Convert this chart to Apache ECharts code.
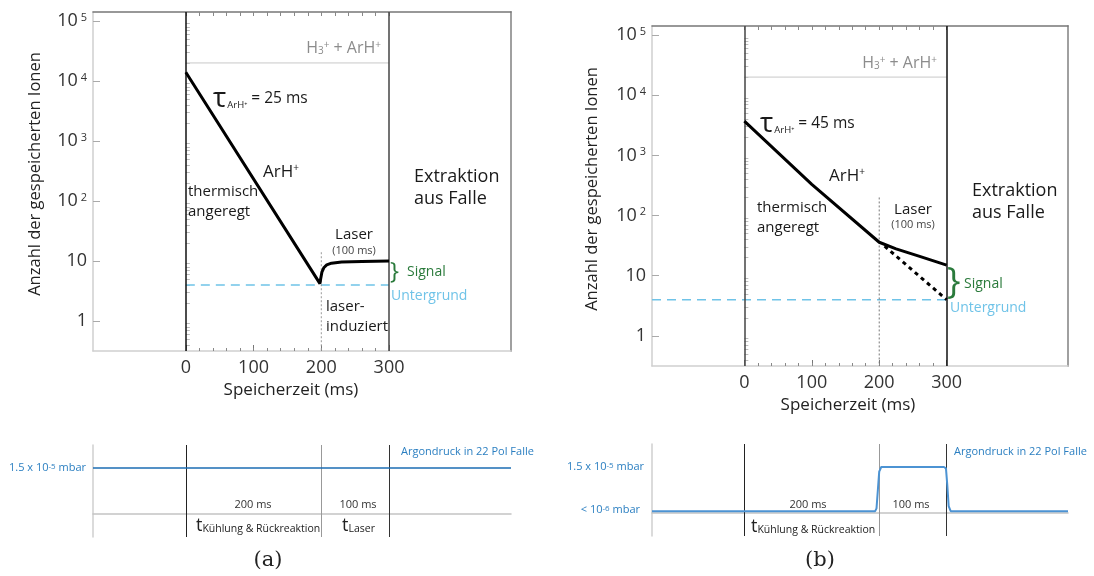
<!DOCTYPE html>
<html>
<head>
<meta charset="utf-8">
<script src="https://cdn.jsdelivr.net/npm/echarts@6/dist/echarts.min.js"></script>
<style>html,body{margin:0;padding:0;background:#fff}#chart{width:1094px;height:576px}</style>
</head>
<body>
<div id="chart"></div>
<script>
// axes: storage time in ms, ion count on log scale
var xMin = -137, xMax = 480;
var yMin = Math.pow(10, -0.5), yMax = Math.pow(10, 5.15);
var decadeTicks = [1, 10, 100, 1000, 10000, 100000];
var timeLabels = [0, 100, 200, 300];
var timeMinorTicks = [0, 20, 40, 60, 80, 100, 120, 140, 160, 180, 200, 220, 240, 260, 280, 300];
var phaseEdges = [0, 200, 300];

var h3Level = 20000;   // H3+ + ArH+
var bgLevel = 4;       // Untergrund

// (a) thermal decay, then laser induced rise
var curveA_t = [0, 198, 199, 201, 204, 208, 215, 230, 260, 300];
var curveA_n = [14000, 4.2, 5.0, 6.6, 7.8, 8.6, 9.2, 9.6, 9.85, 10];
var laserTopA = 14;

// (b) decay, slower loss with laser, dotted without laser
var curveB_t = [0, 100, 200, 225, 260, 300];
var curveB_n = [3700, 330, 36, 28, 21, 15];
var noLaserB_t = [208, 300];
var noLaserB_n = [31, 4];
var laserTopB = 200;

// argon pressure (relative: 1 = 1.5e-5 mbar)
var pressA_t = [-137, 480];
var pressA_v = [1, 1];
var pressB_t = [-137, 194, 196, 198, 200, 203, 296, 299, 301, 303, 306, 480];
var pressB_v = [0.04, 0.04, 0.1, 0.5, 0.9, 1, 1, 0.97, 0.6, 0.15, 0.04, 0.04];

var FONT = '"Open Sans", "Noto Sans", sans-serif';
var INK = '#1a1a1a';
var GREEN = '#2a7a3b';
var LIGHTBLUE = '#6fc3e8';
var BLUE = '#2b7fc1';

function zip(t, v) {
    return t.map(function (x, i) { return [x, v[i]]; });
}

var minorTicks = [];
[0.1].concat(decadeTicks).forEach(function (d) {
    for (var k = 2; k <= 9; k++) {
        var m = d * k;
        if (m > yMin && m < yMax) minorTicks.push(m);
    }
});

function powLabel(v) {
    var e = Math.round(Math.log(v) / Math.LN10);
    if (e === 0) return '1';
    if (e === 1) return '10';
    return '{b|10}{s|' + e + '}';
}

function mainX(gi) {
    return [
        {type: 'value', gridIndex: gi, min: xMin, max: xMax, position: 'bottom',
            axisLine: {onZero: false, lineStyle: {color: '#cfcfcf', width: 1.5}},
            axisTick: {inside: true, length: 6, customValues: timeLabels, lineStyle: {color: '#777'}},
            axisLabel: {customValues: timeLabels, margin: 8, color: '#333', fontSize: 18, fontFamily: FONT},
            splitLine: {show: false}},
        {type: 'value', gridIndex: gi, min: xMin, max: xMax, position: 'bottom',
            axisLine: {show: false},
            axisTick: {inside: true, length: 3, customValues: timeMinorTicks, lineStyle: {color: '#888'}},
            axisLabel: {show: false}, splitLine: {show: false}},
        {type: 'value', gridIndex: gi, min: xMin, max: xMax, position: 'top',
            axisLine: {onZero: false, lineStyle: {color: '#777', width: 1.5}},
            axisTick: {inside: true, length: 4, customValues: timeMinorTicks, lineStyle: {color: '#888'}},
            axisLabel: {show: false}, splitLine: {show: false}}
    ];
}

function mainY(gi) {
    return [
        {type: 'log', logBase: 10, gridIndex: gi, min: yMin, max: yMax, position: 'left',
            axisLine: {onZero: false, lineStyle: {color: '#cfcfcf', width: 1.5}},
            axisTick: {inside: true, length: 7, customValues: decadeTicks, lineStyle: {color: '#aaa'}},
            axisLabel: {customValues: decadeTicks, margin: 6, formatter: powLabel, color: '#333',
                fontSize: 18, fontFamily: FONT,
                rich: {b: {fontSize: 18, fontFamily: FONT, color: '#333'},
                    s: {fontSize: 11, fontFamily: FONT, color: '#333', verticalAlign: 'top', padding: [0, 0, 0, 3]}}},
            splitLine: {show: false}},
        {type: 'log', logBase: 10, gridIndex: gi, min: yMin, max: yMax, position: 'left',
            axisLine: {show: false},
            axisTick: {inside: true, length: 4, customValues: minorTicks, lineStyle: {color: '#bbb'}},
            axisLabel: {show: false}, splitLine: {show: false}},
        {type: 'log', logBase: 10, gridIndex: gi, min: yMin, max: yMax, position: 'right',
            axisLine: {onZero: false, lineStyle: {color: '#a0a0a0', width: 2}},
            axisTick: {show: false}, axisLabel: {show: false}, splitLine: {show: false}}
    ];
}

function pressX(gi) {
    return {type: 'value', gridIndex: gi, min: xMin, max: xMax,
        axisLine: {onZero: true, lineStyle: {color: '#c4c4c4', width: 1.5}},
        axisTick: {show: false}, axisLabel: {show: false}, splitLine: {show: false}};
}

function pressY(gi) {
    return {type: 'value', gridIndex: gi, min: -0.5, max: 1.5, position: 'left',
        axisLine: {show: true, onZero: false, lineStyle: {color: '#cfcfcf', width: 1.5}},
        axisTick: {show: false}, axisLabel: {show: false}, splitLine: {show: false}};
}

function line(xi, yi, data, color, width, type, z) {
    return {type: 'line', xAxisIndex: xi, yAxisIndex: yi, data: data, symbol: 'none',
        silent: true, z: z || 2, lineStyle: {color: color, width: width, type: type || 'solid'}};
}

// vertical phase lines at 0 / 200 / 300 ms; null colour = skip
function phaseLines(colors, width) {
    var data = [];
    phaseEdges.forEach(function (t, i) {
        if (colors[i]) data.push({xAxis: t, lineStyle: {color: colors[i], width: width, type: 'solid'}});
    });
    return {silent: true, symbol: 'none', label: {show: false}, animation: false, data: data};
}

var series = [];
// (a) main
var h3a = line(0, 0, zip([phaseEdges[0], phaseEdges[2]], [h3Level, h3Level]), '#c8c8c8', 1);
h3a.markLine = phaseLines(['#111', null, '#444'], 1.5);
series.push(h3a);
series.push(line(0, 0, zip([phaseEdges[0], phaseEdges[2]], [bgLevel, bgLevel]), LIGHTBLUE, 1.5, [9, 6]));
series.push(line(0, 0, zip([phaseEdges[1], phaseEdges[1]], [laserTopA, yMin]), '#999', 1, [2, 2]));
series.push(line(0, 0, zip(curveA_t, curveA_n), '#000', 3, 'solid', 5));
// (b) main
var h3b = line(3, 3, zip([phaseEdges[0], phaseEdges[2]], [h3Level, h3Level]), '#c8c8c8', 1);
h3b.markLine = phaseLines(['#444', null, '#111'], 1.5);
series.push(h3b);
series.push(line(3, 3, zip([xMin, phaseEdges[2]], [bgLevel, bgLevel]), LIGHTBLUE, 1.5, [9, 6]));
series.push(line(3, 3, zip([phaseEdges[1], phaseEdges[1]], [laserTopB, yMin]), '#777', 1, [2, 2]));
series.push(line(3, 3, zip(noLaserB_t, noLaserB_n), '#000', 3, [4, 4], 5));
series.push(line(3, 3, zip(curveB_t, curveB_n), '#000', 3, 'solid', 5));
// pressure
var pa = line(6, 6, zip(pressA_t, pressA_v), '#1b6db3', 1.5, 'solid', 5);
pa.markLine = phaseLines(['#222', '#999', '#333'], 1);
series.push(pa);
var pb = line(7, 7, zip(pressB_t, pressB_v), '#4c93d3', 2, 'solid', 5);
pb.markLine = phaseLines(['#222', '#999', '#333'], 1);
series.push(pb);

function txt(x, y, s, st, extra) {
    var o = {type: 'text', x: x, y: y, silent: true, z: 100,
        style: Object.assign({text: s, fill: INK, fontSize: 15, fontFamily: FONT,
            align: 'left', verticalAlign: 'middle'}, st || {})};
    return Object.assign(o, extra || {});
}

function tauText(x, y, s) {
    return txt(x, y, '{tau|τ}{sub|ArH⁺}{n| = ' + s + '}', {rich: {
        tau: {fontSize: 28, fontFamily: FONT, fill: INK},
        sub: {fontSize: 9.5, fontFamily: FONT, fill: INK, verticalAlign: 'bottom', padding: [0, 0, 3, 1]},
        n: {fontSize: 15.5, fontFamily: FONT, fill: INK}}});
}

function h3Text(x, y) {
    var g = '#8c8c8c';
    return txt(x, y, '{n|H}{sub|3}{sup|+}{n| + ArH}{sup|+}', {align: 'right', rich: {
        n: {fontSize: 16, fontFamily: FONT, fill: g},
        sub: {fontSize: 10, fontFamily: FONT, fill: g, verticalAlign: 'bottom'},
        sup: {fontSize: 10, fontFamily: FONT, fill: g, verticalAlign: 'top'}}});
}

function arhText(x, y) {
    return txt(x, y, '{n|ArH}{sup|+}', {rich: {
        n: {fontSize: 17, fontFamily: FONT, fill: INK},
        sup: {fontSize: 10, fontFamily: FONT, fill: INK, verticalAlign: 'top'}}});
}

function tText(x, y, s) {
    return txt(x, y, '{t|t}{sub|' + s + '}', {rich: {
        t: {fontSize: 18, fontFamily: FONT, fill: '#222'},
        sub: {fontSize: 10.5, fontFamily: FONT, fill: '#222', verticalAlign: 'bottom'}}});
}

function pressText(x, y, s, exp) {
    return txt(x, y, '{n|' + s + '}{s|' + exp + '}{n| mbar}', {align: 'right', rich: {
        n: {fontSize: 11, fontFamily: FONT, fill: BLUE},
        s: {fontSize: 8, fontFamily: FONT, fill: BLUE, verticalAlign: 'top'}}});
}

var two = {lineHeight: 20};
var graphics = [
    // (a)
    tauText(213, 99, '25 ms'),
    arhText(263, 172),
    txt(188, 202, 'thermisch\nangeregt', two),
    txt(354, 235, 'Laser', {align: 'center'}),
    txt(354, 251, '(100 ms)', {align: 'center', fontSize: 11, fill: '#444'}),
    txt(326, 317, 'laser-\ninduziert', two),
    txt(414, 188, 'Extraktion\naus Falle', {fontSize: 18, lineHeight: 22}),
    h3Text(381, 48),
    txt(390, 272, '}', {fontSize: 24, fill: GREEN}),
    txt(407, 272, 'Signal', {fontSize: 14, fill: GREEN}),
    txt(391, 296, 'Untergrund', {fontSize: 14, fill: LIGHTBLUE}),
    txt(291, 390, 'Speicherzeit (ms)', {align: 'center', fontSize: 17, fill: '#222'}),
    txt(35, 174, 'Anzahl der gespeicherten Ionen', {align: 'center', fontSize: 16.5, fill: '#222'}, {rotation: Math.PI / 2}),
    // (b)
    tauText(760, 124, '45 ms'),
    arhText(829, 176),
    txt(757, 218, 'thermisch\nangeregt', two),
    txt(913, 210, 'Laser', {align: 'center'}),
    txt(913, 225, '(100 ms)', {align: 'center', fontSize: 11, fill: '#444'}),
    txt(972, 202, 'Extraktion\naus Falle', {fontSize: 18, lineHeight: 22}),
    h3Text(937, 63),
    txt(947, 283, '}', {fontSize: 36, fill: GREEN}),
    txt(964, 284, 'Signal', {fontSize: 14, fill: GREEN}),
    txt(950, 308, 'Untergrund', {fontSize: 14, fill: LIGHTBLUE}),
    txt(848, 405, 'Speicherzeit (ms)', {align: 'center', fontSize: 17, fill: '#222'}),
    txt(592, 189, 'Anzahl der gespeicherten Ionen', {align: 'center', fontSize: 16.5, fill: '#222'}, {rotation: Math.PI / 2}),
    // pressure (a)
    pressText(86, 468, '1.5 x 10', '-5'),
    txt(401, 452, 'Argondruck in 22 Pol Falle', {fontSize: 11, fill: BLUE}),
    txt(253, 505, '200 ms', {align: 'center', fontSize: 11, fill: '#333'}),
    txt(358, 505, '100 ms', {align: 'center', fontSize: 11, fill: '#333'}),
    tText(196, 526, 'Kühlung & Rückreaktion'),
    tText(342, 526, 'Laser'),
    txt(268, 561, '(a)', {align: 'center', fontSize: 21, fontFamily: '"DejaVu Serif", serif', fill: '#222'}),
    // pressure (b)
    pressText(644, 467, '1.5 x 10', '-5'),
    pressText(640, 510, '< 10', '-6'),
    txt(954, 452, 'Argondruck in 22 Pol Falle', {fontSize: 11, fill: BLUE}),
    txt(808, 505, '200 ms', {align: 'center', fontSize: 11, fill: '#333'}),
    txt(911, 505, '100 ms', {align: 'center', fontSize: 11, fill: '#333'}),
    tText(751, 527, 'Kühlung & Rückreaktion'),
    txt(820, 561, '(b)', {align: 'center', fontSize: 21, fontFamily: '"DejaVu Serif", serif', fill: '#222'})
];

var chart = echarts.init(document.getElementById('chart'));
chart.setOption({
    animation: false,
    backgroundColor: '#fff',
    grid: [
        {left: 93, top: 12, width: 418, height: 339, outerBoundsMode: 'none'},
        {left: 652, top: 26, width: 416, height: 340, outerBoundsMode: 'none'},
        {left: 93, top: 445, width: 418, height: 92, outerBoundsMode: 'none'},
        {left: 652, top: 444, width: 416, height: 92, outerBoundsMode: 'none'}
    ],
    xAxis: mainX(0).concat(mainX(1), [pressX(2), pressX(3)]),
    yAxis: mainY(0).concat(mainY(1), [pressY(2), pressY(3)]),
    series: series,
    graphic: graphics
});
</script>
</body>
</html>
